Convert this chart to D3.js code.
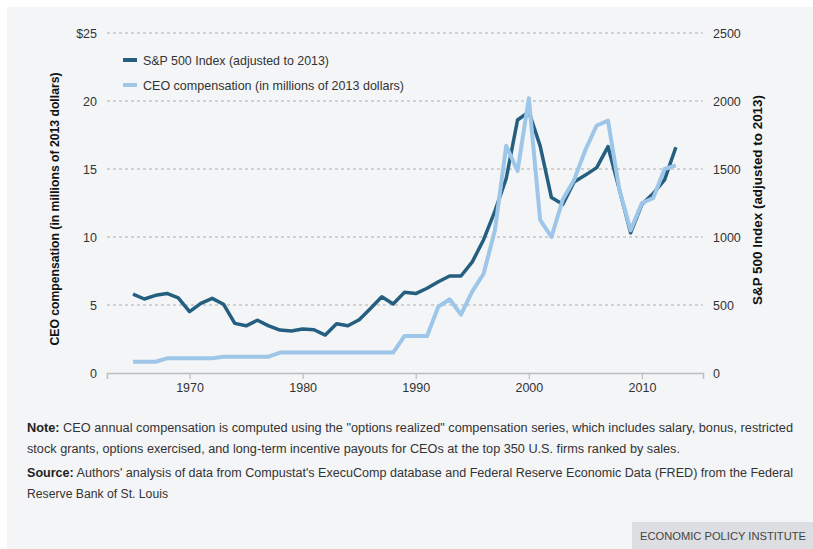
<!DOCTYPE html>
<html>
<head>
<meta charset="utf-8">
<script src="https://cdn.jsdelivr.net/npm/d3@7"></script>
<style>
  body { margin: 0; background: #fff; }
  svg { display: block; font-family: "Liberation Sans", Arial, sans-serif; }
</style>
</head>
<body>
<div id="chart"></div>
<script>
// data
const years = d3.range(1965, 2014);
const sp500 = [580, 544, 571, 585, 553, 451, 512, 549, 506, 365,
  347, 388, 347, 316, 309, 324, 318, 279, 362, 347,
  392, 475, 561, 507, 593, 584, 623, 671, 713, 713,
  817, 980, 1190, 1430, 1860, 1920, 1670, 1290, 1240, 1405,
  1455, 1510, 1665, 1350, 1030, 1240, 1320, 1420, 1660];
const ceoPay = [0.83, 0.83, 0.83, 1.08, 1.08, 1.08, 1.08, 1.08, 1.2, 1.2,
  1.2, 1.2, 1.2, 1.5, 1.5, 1.5, 1.5, 1.5, 1.5, 1.5,
  1.5, 1.5, 1.5, 1.5, 2.72, 2.72, 2.72, 4.88, 5.42, 4.3,
  6.0, 7.3, 10.5, 16.7, 14.85, 20.2, 11.26, 10.0, 12.75, 14.2,
  16.4, 18.2, 18.56, 13.5, 10.5, 12.5, 12.87, 15.0, 15.27];
const leftTicks = [0, 5, 10, 15, 20, 25];
const rightTicks = [0, 500, 1000, 1500, 2000, 2500];
const yearTicks = [1970, 1980, 1990, 2000, 2010];

const seriesNames = ["S&P 500 Index (adjusted to 2013)", "CEO compensation (in millions of 2013 dollars)"];
const noteLines = [
  ["Note:", " CEO annual compensation is computed using the \"options realized\" compensation series, which includes salary, bonus, restricted"],
  ["", "stock grants, options exercised, and long-term incentive payouts for CEOs at the top 350 U.S. firms ranked by sales."],
  ["Source:", " Authors' analysis of data from Compustat's ExecuComp database and Federal Reserve Economic Data (FRED) from the Federal"],
  ["", "Reserve Bank of St. Louis"]
];

const width = 813, height = 549;
const plot = {left: 107, right: 703, top: 33, bottom: 373};
const darkBlue = "#245f80", lightBlue = "#9dc6e8";

const svg = d3.select("#chart").append("svg")
  .attr("width", width)
  .attr("height", height);

svg.append("rect")
  .attr("x", 7).attr("y", 7)
  .attr("width", width - 7).attr("height", height - 7)
  .attr("fill", "#f3f5f7");

const x = d3.scaleLinear().domain([1962.7, 2015.4]).range([plot.left, plot.right]);
const yLeft = d3.scaleLinear().domain([0, 25]).range([plot.bottom, plot.top]);
const yRight = d3.scaleLinear().domain([0, 2500]).range([plot.bottom, plot.top]);

// grid lines
svg.append("g")
  .selectAll("line")
  .data(leftTicks.filter(d => d > 0))
  .join("line")
    .attr("x1", plot.left).attr("x2", plot.right)
    .attr("y1", d => yLeft(d)).attr("y2", d => yLeft(d))
    .attr("stroke", "#9a9a9a")
    .attr("stroke-width", 0.8)
    .attr("stroke-dasharray", "3,3");

// left axis labels
svg.append("g")
  .attr("transform", `translate(${plot.left - 10},0)`)
  .call(d3.axisLeft(yLeft).tickValues(leftTicks).tickSize(0).tickFormat(d => d === 25 ? "$25" : d))
  .call(g => g.select(".domain").remove())
  .call(g => g.selectAll("text")
    .attr("x", 0)
    .attr("fill", "#333")
    .attr("font-size", 12.5)
    .style("font-family", "inherit"));

// right axis labels
svg.append("g")
  .attr("transform", `translate(${plot.right + 10},0)`)
  .call(d3.axisRight(yRight).tickValues(rightTicks).tickSize(0).tickFormat(d3.format("d")))
  .call(g => g.select(".domain").remove())
  .call(g => g.selectAll("text")
    .attr("x", 0)
    .attr("fill", "#333")
    .attr("font-size", 12.5)
    .style("font-family", "inherit"));

// bottom axis
svg.append("g")
  .attr("transform", `translate(0,${plot.bottom})`)
  .call(d3.axisBottom(x).tickValues(yearTicks).tickFormat(d3.format("d")).tickSize(6).tickPadding(4))
  .call(g => g.select(".domain").attr("stroke", "#bdbdbd").attr("stroke-width", 1.5))
  .call(g => g.selectAll(".tick line").attr("stroke", "#bdbdbd").attr("stroke-width", 1.2))
  .call(g => g.selectAll("text")
    .attr("fill", "#333")
    .attr("font-size", 12.5)
    .style("font-family", "inherit"));

// lines
const spLine = d3.line()
  .x((d, i) => x(years[i]))
  .y(d => yRight(d));
const ceoLine = d3.line()
  .x((d, i) => x(years[i]))
  .y(d => yLeft(d));

svg.append("path")
  .datum(sp500)
  .attr("d", spLine)
  .attr("fill", "none")
  .attr("stroke", darkBlue)
  .attr("stroke-width", 3.5)
  .attr("stroke-linejoin", "round");

svg.append("path")
  .datum(ceoPay)
  .attr("d", ceoLine)
  .attr("fill", "none")
  .attr("stroke", lightBlue)
  .attr("stroke-width", 4)
  .attr("stroke-linejoin", "round");

// legend
const legendWidths = [186, 261];
const legend = svg.append("g")
  .selectAll("g")
  .data(seriesNames)
  .join("g")
    .attr("transform", (d, i) => `translate(123,${60 + i * 25})`);

legend.append("line")
  .attr("x1", 0).attr("x2", 14)
  .attr("stroke", (d, i) => i === 0 ? darkBlue : lightBlue)
  .attr("stroke-width", 4);

legend.append("text")
  .attr("x", 20)
  .attr("dy", "0.35em")
  .attr("fill", "#333")
  .attr("font-size", 13)
  .attr("textLength", (d, i) => legendWidths[i])
  .attr("lengthAdjust", "spacingAndGlyphs")
  .text(d => d);

// axis titles
svg.append("text")
  .attr("transform", `translate(59,${(plot.top + plot.bottom) / 2 + 6}) rotate(-90)`)
  .attr("text-anchor", "middle")
  .attr("font-weight", "bold")
  .attr("font-size", 12.5)
  .attr("fill", "#111")
  .attr("textLength", 273)
  .attr("lengthAdjust", "spacingAndGlyphs")
  .text("CEO compensation (in millions of 2013 dollars)");

svg.append("text")
  .attr("transform", `translate(762,${(plot.top + plot.bottom) / 2 - 3}) rotate(-90)`)
  .attr("text-anchor", "middle")
  .attr("font-weight", "bold")
  .attr("font-size", 12.5)
  .attr("fill", "#111")
  .attr("textLength", 210)
  .attr("lengthAdjust", "spacingAndGlyphs")
  .text("S&P 500 Index (adjusted to 2013)");

// notes
const noteY = [432, 453, 477, 498];
const noteWidths = [766, 653, 766, 141];
const notes = svg.append("g")
  .selectAll("text")
  .data(noteLines)
  .join("text")
    .attr("x", 27)
    .attr("y", (d, i) => noteY[i])
    .attr("font-size", 12.5)
    .attr("fill", "#333")
    .attr("textLength", (d, i) => noteWidths[i])
    .attr("lengthAdjust", "spacingAndGlyphs");

notes.append("tspan")
  .attr("font-weight", "bold")
  .attr("fill", "#222")
  .text(d => d[0]);
notes.append("tspan")
  .text(d => d[1]);

// footer tag
svg.append("rect")
  .attr("x", 632).attr("y", 522)
  .attr("width", width - 632).attr("height", height - 522)
  .attr("fill", "#dcdee1");

svg.append("text")
  .attr("x", 640)
  .attr("y", 540)
  .attr("font-size", 11.5)
  .attr("fill", "#444")
  .attr("textLength", 166)
  .attr("lengthAdjust", "spacingAndGlyphs")
  .text("ECONOMIC POLICY INSTITUTE");
</script>
</body>
</html>
